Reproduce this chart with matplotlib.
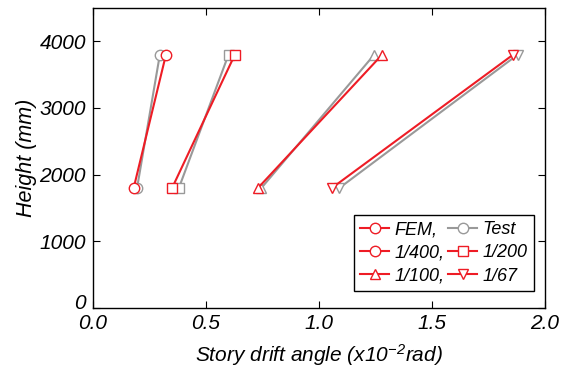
import matplotlib
matplotlib.use("Agg")
import matplotlib.pyplot as plt
import matplotlib.transforms as mtransforms

plt.rcParams['font.family'] = ['Liberation Sans', 'DejaVu Sans']
plt.rcParams['font.style'] = 'italic'
plt.rcParams['mathtext.fontset'] = 'custom'
plt.rcParams['mathtext.rm'] = 'Liberation Sans:italic'
plt.rcParams['mathtext.it'] = 'Liberation Sans:italic'

# 层高 (mm)
heights = [1800, 3800]

# 有限元结果
fem_400 = [0.18, 0.323]
fem_200 = [0.35, 0.628]
fem_100 = [0.73, 1.28]
fem_67 = [1.057, 1.86]

# 试验结果
test_400 = [0.195, 0.296]
test_200 = [0.38, 0.60]
test_100 = [0.745, 1.245]
test_67 = [1.09, 1.88]

red = '#ee1c25'
gray = '#999999'

fig = plt.figure(figsize=(5.67, 3.74), dpi=100)
ax = fig.add_axes([0.164, 0.176, 0.797, 0.803])

kw = dict(lw=1.5, ms=7.5, mfc='white', mew=1.0)
markers = ['o', 's', '^', 'v']
tests = [test_400, test_200, test_100, test_67]
fems = [fem_400, fem_200, fem_100, fem_67]

for m, t in zip(markers, tests):
    ax.plot(t, heights, marker=m, color=gray, mec=gray, **kw)
for m, f in zip(markers, fems):
    ax.plot(f, heights, marker=m, color=red, mec=red, **kw)

# 图例
h_fem, = ax.plot([], [], marker='o', color=red, mec=red, **kw)
h_test, = ax.plot([], [], marker='o', color=gray, mec=gray, **kw)
h400, = ax.plot([], [], marker='o', color=red, mec=red, **kw)
h200, = ax.plot([], [], marker='s', color=red, mec=red, **kw)
h100, = ax.plot([], [], marker='^', color=red, mec=red, **kw)
h67, = ax.plot([], [], marker='v', color=red, mec=red, **kw)
leg = ax.legend([h_fem, h400, h100, h_test, h200, h67],
                ['FEM,', '1/400,', '1/100,', 'Test', '1/200', '1/67'],
                ncol=2, loc='lower right', bbox_to_anchor=(0.976, 0.057),
                borderaxespad=0,
                fontsize=13, handlelength=1.6, handletextpad=0.3,
                columnspacing=0.2, labelspacing=0.35, borderpad=0.35,
                fancybox=False, edgecolor='black', framealpha=1)
leg.get_frame().set_linewidth(1.0)

ax.set_xlim(0, 2.0)
ax.set_ylim(0, 4500)
ax.set_xticks([0.0, 0.5, 1.0, 1.5, 2.0])
ax.set_yticks([0, 1000, 2000, 3000, 4000])
ax.tick_params(direction='in', top=True, right=True, length=5, labelsize=15)
ax.tick_params(axis='x', pad=4)
ax.tick_params(axis='y', pad=5)
for s in ax.spines.values():
    s.set_linewidth(1.0)

# y轴 "0" 稍微上移, 避免和 0.0 重叠
lab0 = ax.get_yticklabels()[0]
lab0.set_transform(lab0.get_transform() +
                   mtransforms.ScaledTranslation(0, 7 / 100, fig.dpi_scale_trans))

ax.set_xlabel('Story drift angle (x10$^{-2}$rad)', fontsize=15, labelpad=7)
ax.set_ylabel('Height (mm)', fontsize=15.5, labelpad=2)

fig.savefig('out.png', dpi=100)
